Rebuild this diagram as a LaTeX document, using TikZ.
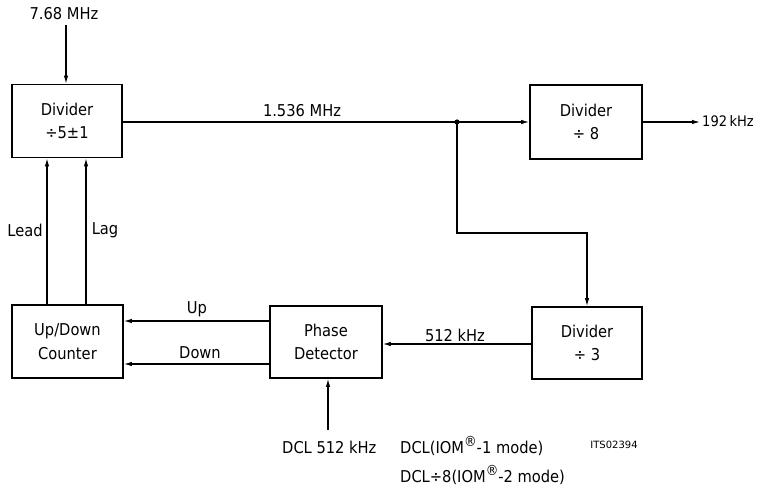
\documentclass[tikz,border=0pt]{standalone}
\usepackage{fontspec}
\setmainfont{DejaVu Sans Condensed}
\newfontfamily\widefont{DejaVu Sans}
\usetikzlibrary{arrows.meta}
\newcommand{\regmark}{\raisebox{0.45em}{\fontsize{14}{14}\selectfont ®}}
\begin{document}
\begin{tikzpicture}[x=1pt,y=-1pt,
  blk/.style={draw,line width=1.8pt,minimum width=110pt,minimum height=73pt,align=center,inner sep=0pt,
    font=\fontsize{16.3}{23.5}\selectfont},
  wire/.style={line width=1.1pt},
  arr/.style={wire,-{Latex[length=8pt,width=4.5pt]}},
  lbl/.style={font=\fontsize{16.3}{18}\selectfont,inner sep=0pt}]
\useasboundingbox (0,0) rectangle (759,489);
\node[blk] (div5) at (67,121) {Divider\\÷5±1};
\node[blk,minimum width=112pt,minimum height=74pt] (div8) at (586,122) {Divider\\÷ 8};
\node[blk,minimum height=72pt] (div3) at (587,343) {Divider\\÷ 3};
\node[blk,minimum width=112pt,minimum height=72pt] (pd) at (326,342) {Phase\\Detector};
\node[blk,minimum width=111pt] (cnt) at (67.5,341.5) {Up/Down\\Counter};
% input 7.68 MHz
\node[lbl] (t768) at (64,14) {7.68 MHz};
\coordinate (in1) at (66,25);
\draw[arr] (in1) -- (in1 |- div5.north);
% 1.536 MHz
\coordinate (j) at (457,122);
\draw[wire] (div5.east |- j) -- (j);
\draw[arr] (j) -- (div8.west |- j);
\fill (j) circle (2.6pt);
\node[lbl] (t1536) at (302,111) {1.536 MHz};
% 192 kHz
\coordinate (o192) at (700,122);
\draw[arr] (div8.east |- o192) -- (o192);
\node[lbl,font=\fontsize{14.5}{16}\selectfont,anchor=west] (t192) at (702,121) {192\,kHz};
% to divider 3
\coordinate (k1) at (457,233);
\coordinate (k2) at (587,233);
\draw[arr] (j) -- (k1) -- (k2) -- (div3.north);
% 512 kHz
\draw[arr] (div3.west |- 0,344) -- (pd.east |- 0,344);
\node[lbl] (t512) at (455,335) {512 kHz};
% Up / Down
\draw[arr] ([yshift=21pt]pd.west) -- ([yshift=21pt]pd.west -| cnt.east);
\draw[arr] ([yshift=-22pt]pd.west) -- ([yshift=-22pt]pd.west -| cnt.east);
\node[lbl] (tup) at (197,309) {Up};
\node[lbl] (tdown) at (200,353) {Down};
% Lead / Lag
\coordinate (lx) at (47,0);
\coordinate (gx) at (86,0);
\draw[arr] (cnt.north -| lx) -- (lx |- div5.south);
\draw[arr] (cnt.north -| gx) -- (gx |- div5.south);
\node[lbl] (tlead) at (25,230) {Lead};
\node[lbl] (tlag) at (105,230) {Lag};
% DCL
\coordinate (dcl) at (328,430);
\draw[arr] (dcl) -- (dcl |- pd.south);
\node[lbl,anchor=west] (tdcl) at (282,447) {DCL 512 kHz};
\node[lbl,anchor=west] (tm1) at (400,446) {DCL(IOM\regmark-1 mode)};
\node[lbl,anchor=west] (tm2) at (400,475) {DCL÷8(IOM\regmark-2 mode)};
\node[font=\widefont\fontsize{10}{11}\selectfont,inner sep=0pt] (tits) at (614,445) {ITS02394};
\end{tikzpicture}
\end{document}
